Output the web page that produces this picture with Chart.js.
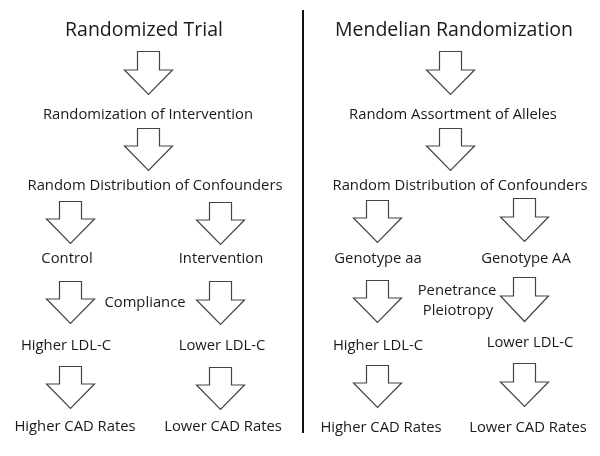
<!DOCTYPE html>
<html>
<head>
<meta charset="utf-8">
<script src="https://cdn.jsdelivr.net/npm/chart.js@4.4.1/dist/chart.umd.min.js"></script>
<style>
  html, body { margin: 0; padding: 0; background: #fff; }
  #wrap { width: 600px; height: 456px; }
</style>
</head>
<body>
<div id="wrap"><canvas id="flow"></canvas></div>
<script>
// column headings
var titleTexts = ['Randomized Trial', 'Mendelian Randomization'];
var titleX = [144, 454];
var titleY = [30, 30];

// step labels
var labelTexts = [
    'Randomization of Intervention', 'Random Distribution of Confounders',
    'Control', 'Intervention', 'Compliance',
    'Higher LDL-C', 'Lower LDL-C', 'Higher CAD Rates', 'Lower CAD Rates',
    'Random Assortment of Alleles', 'Random Distribution of Confounders',
    'Genotype aa', 'Genotype AA', 'Penetrance', 'Pleiotropy',
    'Higher LDL-C', 'Lower LDL-C', 'Higher CAD Rates', 'Lower CAD Rates'
];
var labelX = [148, 155, 67, 221, 145, 66, 222, 75, 223,
              453, 460, 378, 526, 457, 458, 378, 530, 381, 528];
var labelY = [115, 186, 259, 259, 303, 346, 346, 427, 427,
              115, 186, 259, 259, 291, 311, 346, 343, 428, 428];

// block arrows: centre, top of shaft, tip
var arrowX   = [148, 148, 70, 220, 70, 220, 70, 220,
                450, 450, 377, 524, 377, 524, 377, 524];
var arrowTop = [51, 128, 201, 202, 281, 281, 366, 367,
                51, 128, 200, 198, 280, 277, 365, 363];
var arrowTip = [94, 170, 243, 244, 323, 324, 408, 409,
                94, 170, 242, 241, 322, 321, 407, 406];

// divider between the two halves
var dividerX = [303, 303];
var dividerY = [10, 433];

function points(xs, ys) {
    return xs.map(function(x, i) { return { x: x, y: ys[i] }; });
}

var flowPlugin = {
    id: 'flowDiagram',
    afterDatasetsDraw: function(chart) {
        var ctx = chart.ctx;
        var yScale = chart.scales.y;

        // arrows
        ctx.save();
        ctx.lineWidth = 1.2;
        ctx.strokeStyle = '#444';
        ctx.fillStyle = '#fff';
        ctx.lineJoin = 'miter';
        chart.getDatasetMeta(1).data.forEach(function(pt, i) {
            var x = Math.round(pt.x) + 0.5;
            var top = Math.round(pt.y) + 0.5;
            var tip = Math.round(yScale.getPixelForValue(arrowTip[i])) + 0.5;
            var neck = Math.round(top + (tip - top) * 0.42);
            ctx.beginPath();
            ctx.moveTo(x - 11, top);
            ctx.lineTo(x + 11, top);
            ctx.lineTo(x + 11, neck);
            ctx.lineTo(x + 24, neck);
            ctx.lineTo(x, tip);
            ctx.lineTo(x - 24, neck);
            ctx.lineTo(x - 11, neck);
            ctx.closePath();
            ctx.fill();
            ctx.stroke();
        });
        ctx.restore();

        // texts
        ctx.save();
        ctx.fillStyle = '#1a1a1a';
        ctx.textAlign = 'center';
        ctx.textBaseline = 'middle';
        ctx.font = '14.8px "Open Sans", sans-serif';
        chart.getDatasetMeta(2).data.forEach(function(pt, i) {
            ctx.fillText(labelTexts[i], pt.x, pt.y);
        });
        ctx.font = '19.5px "Open Sans", sans-serif';
        chart.getDatasetMeta(3).data.forEach(function(pt, i) {
            ctx.fillText(titleTexts[i], pt.x, pt.y);
        });
        ctx.restore();
    }
};

var chart = new Chart(document.getElementById('flow').getContext('2d'), {
    type: 'scatter',
    data: {
        datasets: [
            {
                label: 'divider',
                data: points(dividerX, dividerY),
                showLine: true,
                borderColor: '#111',
                borderWidth: 2,
                pointRadius: 0
            },
            { label: 'arrows', data: points(arrowX, arrowTop), pointRadius: 0 },
            { label: 'labels', data: points(labelX, labelY), pointRadius: 0 },
            { label: 'titles', data: points(titleX, titleY), pointRadius: 0 }
        ]
    },
    options: {
        responsive: true,
        maintainAspectRatio: false,
        animation: false,
        events: [],
        layout: { padding: 0 },
        scales: {
            x: { type: 'linear', min: 0, max: 600, display: false },
            y: { type: 'linear', min: 0, max: 456, reverse: true, display: false }
        },
        plugins: {
            legend: { display: false },
            tooltip: { enabled: false }
        }
    },
    plugins: [flowPlugin]
});
</script>
</body>
</html>
